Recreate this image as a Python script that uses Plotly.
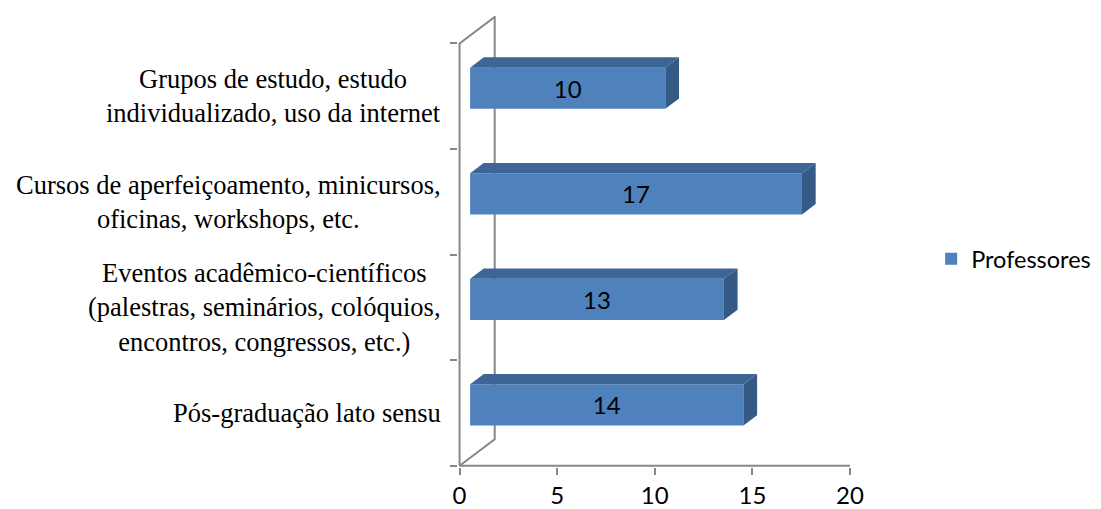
import plotly.graph_objects as go

# ---------------- data ----------------
categories = [
    "Pós-graduação lato sensu",
    "Eventos acadêmico-científicos<br>(palestras, seminários, colóquios,<br>encontros, congressos, etc.)",
    "Cursos de aperfeiçoamento, minicursos,<br>oficinas, workshops, etc.",
    "Grupos de estudo, estudo<br>individualizado, uso da internet",
]
professores = [14, 13, 17, 10]
series_name = "Professores"
x_ticks = [0, 5, 10, 15, 20]

# ---------------- 3-D look (axis units) ----------------
DEPTH_X = 1.8      # depth of the floor/back wall, x units
DEPTH_Y = 0.251    # depth of the floor/back wall, category units
BAR_FRONT = 0.30   # where the bar front face sits inside the depth
BAR_DEPTH = 0.39   # bar depth as fraction of wall depth
BAR_H = 0.39       # bar thickness (category units)

FRONT = "#4F81BD"
TOP = "#3D6595"
SIDE = "#365A86"
AXIS = "#878787"
TXT_FONT = "Lato"
CAT_FONT = "Liberation Serif"

n = len(categories)
fx, fy = BAR_FRONT * DEPTH_X, BAR_FRONT * DEPTH_Y
bx, by = BAR_DEPTH * DEPTH_X, BAR_DEPTH * DEPTH_Y
centers = [i + 0.5 + fy for i in range(n)]

fig = go.Figure()

# front faces
fig.add_trace(go.Bar(
    orientation="h", y=centers, x=professores, base=fx, width=BAR_H,
    marker=dict(color=FRONT, line=dict(width=0)),
    text=[str(v) for v in professores], textposition="inside",
    insidetextanchor="middle", textangle=0,
    textfont=dict(family=TXT_FONT, size=24, color="black"),
    name=series_name, showlegend=True, hoverinfo="skip",
))

# top & side faces
tx, ty, sx, sy = [], [], [], []
for c, v in zip(centers, professores):
    y0, y1 = c - BAR_H / 2, c + BAR_H / 2
    x0, x1 = fx, fx + v
    tx += [x0, x1, x1 + bx, x0 + bx, x0, None]
    ty += [y1, y1, y1 + by, y1 + by, y1, None]
    sx += [x1, x1, x1 + bx, x1 + bx, x1, None]
    sy += [y0, y1, y1 + by, y0 + by, y0, None]
fig.add_trace(go.Scatter(x=tx, y=ty, mode="lines", fill="toself", fillcolor=TOP,
                         line=dict(width=0, color=TOP), showlegend=False, hoverinfo="skip"))
fig.add_trace(go.Scatter(x=sx, y=sy, mode="lines", fill="toself", fillcolor=SIDE,
                         line=dict(width=0, color=SIDE), showlegend=False, hoverinfo="skip"))

# walls / axis lines
wall = [(0, 0), (0, n), (DEPTH_X, n + DEPTH_Y), (DEPTH_X, DEPTH_Y), (0, 0)]
path = "M " + " L ".join(f"{x},{y}" for x, y in wall)
shapes = [
    dict(type="path", path=path, xref="x", yref="y", layer="below",
         line=dict(color=AXIS, width=2)),
    dict(type="line", x0=0, x1=x_ticks[-1], y0=0, y1=0, xref="x", yref="y",
         layer="below", line=dict(color=AXIS, width=2)),
]

annotations = [
    dict(text=cat, x=-0.0395, xref="paper", y=i + 0.5, yref="y",
         xanchor="right", yanchor="middle", align="center", showarrow=False,
         font=dict(family=CAT_FONT, size=26.5, color="black"))
    for i, cat in enumerate(categories)
]

fig.update_layout(
    width=1093, height=501,
    margin=dict(l=450, r=251, t=8, b=42, autoexpand=False),
    paper_bgcolor="white", plot_bgcolor="white",
    shapes=shapes, annotations=annotations,
    showlegend=True,
    legend=dict(x=1.207, y=0.461, xanchor="left", yanchor="middle",
                font=dict(family=TXT_FONT, size=23.5, color="black"),
                bgcolor="rgba(0,0,0,0)"),
    xaxis=dict(range=[-0.08, x_ticks[-1]], tickvals=x_ticks, ticktext=[str(t) for t in x_ticks],
               showgrid=False, zeroline=False, showline=False,
               ticks="outside", ticklen=7, tickwidth=2, tickcolor=AXIS,
               tickfont=dict(family=TXT_FONT, size=24, color="black")),
    yaxis=dict(range=[-0.0125, n + 0.26], tickvals=list(range(n + 1)),
               showticklabels=False, showgrid=False, zeroline=False, showline=False,
               ticks="outside", ticklen=7, tickwidth=2, tickcolor=AXIS),
)

fig.write_html("out.html")
